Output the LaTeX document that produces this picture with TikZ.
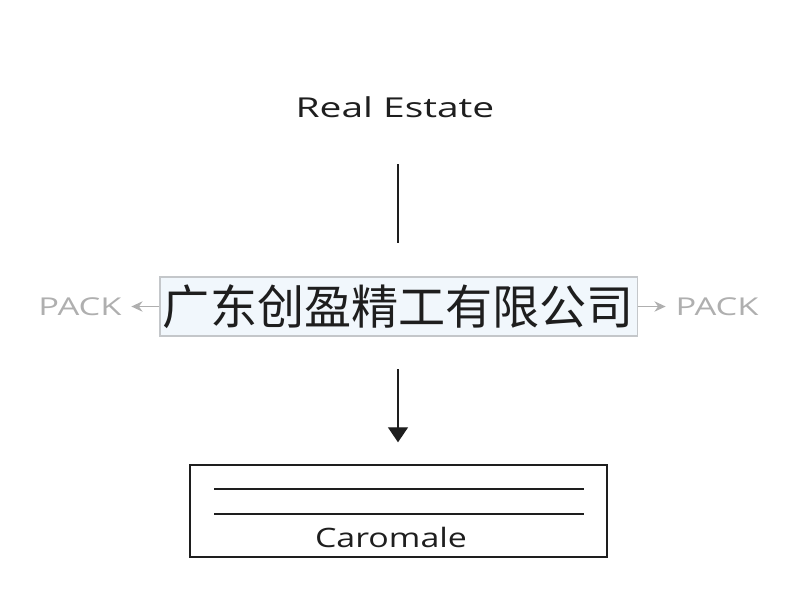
\documentclass[tikz,border=0pt]{standalone}
\usepackage{fontspec}
\setmainfont{Open Sans}
\newfontfamily\cjkfont{Noto Sans CJK SC}
\usetikzlibrary{arrows,arrows.meta,calc}

\definecolor{boxfill}{HTML}{F1F7FC}
\definecolor{boxedge}{HTML}{C4C7CA}
\definecolor{packgray}{HTML}{AFAFAF}
\definecolor{inkdark}{HTML}{1E1E1E}

\begin{document}
\begin{tikzpicture}[x=0.025cm,y=-0.025cm,>=stealth',
        title/.style={font=\fontsize{19.5}{22}\selectfont,text=inkdark,inner sep=0pt},
        company/.style={draw=boxedge,line width=0.8pt,fill=boxfill,inner sep=0pt,
          minimum width=11.925cm,minimum height=1.475cm,
          font=\cjkfont\fontsize{33.5}{36}\selectfont,text=inkdark},
        pack/.style={font=\fontsize{17.5}{20}\selectfont,text=packgray,inner sep=0pt},
        sidearrow/.style={-{Stealth[length=2.8mm,width=2.6mm]},draw=packgray,line width=1pt},
        link/.style={draw=inkdark,line width=1pt},
        holder/.style={draw=inkdark,line width=1pt,inner sep=0pt,
          minimum width=10.425cm,minimum height=2.3cm}]

  \useasboundingbox (0,0) rectangle (800,600);

  \node[title] (estate) at (395,107) {\scalebox{1.42}[1]{Real Estate}};
  \coordinate (stemtop) at (398,164);
  \coordinate (stembot) at (398,243);
  \draw[link] (stemtop) -- (stembot);

  \node[company] (firm) at (398.5,306.5) {广东创盈精工有限公司};

  \node[pack] (packl) at (80,307) {\scalebox{1.4}[1]{PACK}};
  \node[pack] (packr) at (717,307) {\scalebox{1.4}[1]{PACK}};
  \draw[sidearrow] (firm.west) -- ++(-28,0) coordinate (tipl);
  \draw[sidearrow] (firm.east) -- ++(28,0) coordinate (tipr);

  \node[holder] (shelf) at (398.5,511) {};
  \coordinate (dropstart) at (398,369);
  \draw[link,-{Triangle[length=0.375cm,width=0.5cm]},shorten >=0.55cm]
    (dropstart) -- (dropstart |- shelf.north);

  \draw[link,line width=1.2pt] ($(shelf.north west)+(25,25)$) -- ($(shelf.north east)+(-24,25)$);
  \draw[link,line width=1.2pt] ($(shelf.north west)+(25,50)$) -- ($(shelf.north east)+(-24,50)$);
  \node[title,font=\fontsize{19}{22}\selectfont] (caro) at (391,537) {\scalebox{1.27}[1]{Caromale}};

\end{tikzpicture}
\end{document}
